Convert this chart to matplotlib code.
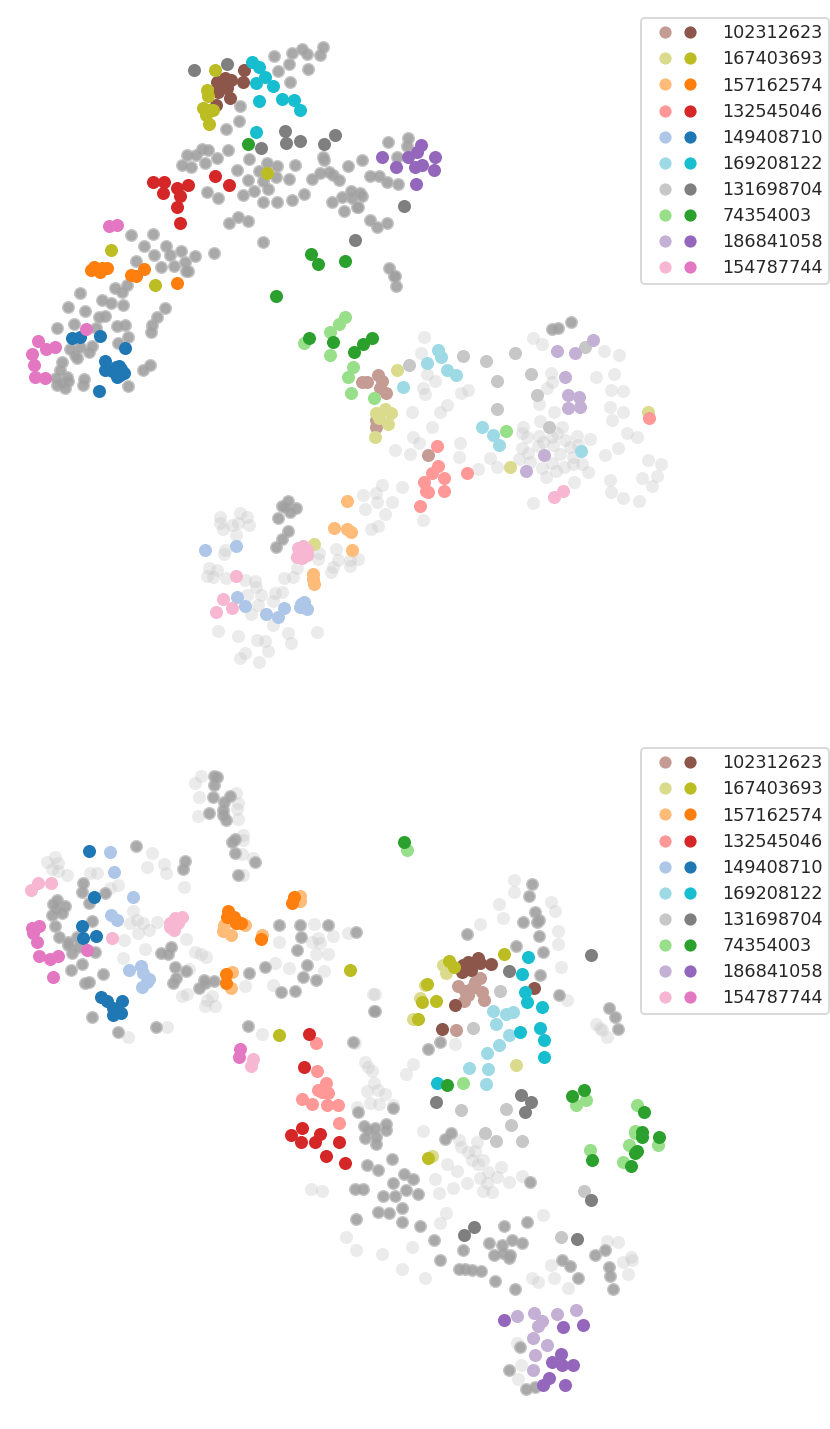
import matplotlib
matplotlib.use("Agg")
import matplotlib.pyplot as plt
from matplotlib.lines import Line2D
from matplotlib.legend_handler import HandlerTuple

labels = ['102312623','167403693','157162574','132545046','149408710','169208122','131698704','74354003','186841058','154787744']
dark_colors = ['#8c564b','#bcbd22','#ff7f0e','#d62728','#1f77b4','#17becf','#7f7f7f','#2ca02c','#9467bd','#e377c2']
light_colors = ['#c49c94','#dbdb8d','#ffbb78','#ff9896','#aec7e8','#9edae5','#c7c7c7','#98df8a','#c5b0d5','#f7b6d2']

# ---------- top panel ----------
top_faint = [(424,337),(421,353),(427,374),(435,381),(423,388),(425,394),(461,393),(468,390),(447,405),(440,412),(412,412),(432,427),(413,437),(419,443),(395,450),(410,454),(460,443),(459,457),(478,469),(490,458),(497,467),
(533,338),(542,344),(604,351),(619,355),(551,373),(552,382),(547,388),(596,377),(614,374),(611,390),(623,391),(539,404),(554,412),(540,421),(610,407),(623,412),(612,420),(562,427),
(523,427),(527,437),(522,433),(539,436),(538,446),(522,448),(552,437),(557,433),(565,440),(577,436),(590,439),(560,454),(570,447),(578,445),(528,453),(519,459),(530,462),(552,463),(573,457),(564,467),(573,464),(582,464),(588,472),(542,468),(556,471),(546,477),(574,482),(543,442),(553,445),
(605,455),(618,448),(627,433),(637,437),(648,460),(661,464),(657,476),(642,478),(652,486),(610,480),(611,492),(623,498),(639,501),(533,503),
(363,495),(376,493),(382,485),(402,487),(377,502),(392,502),(365,509),(385,514),(378,526),(371,529),(423,520),
(220,517),(240,513),(247,517),(220,523),(223,529),(232,525),(238,523),(249,525),(236,535),(225,550),(224,554),(209,568),(217,570),(207,576),(213,577),(226,578),(245,580),(255,581),(256,587),(247,595),(261,595),(275,593),(282,592),(258,605),(273,601),(251,614),(273,625),(218,631),(238,636),(257,640),(265,641),(288,633),(317,632),(291,643),(268,651),(245,653),(240,658),(259,662),
(284,578),(293,577),(297,568),(318,559),(319,553),(336,549),(338,560),(333,567),(331,572),(350,560),(358,559),(350,566)]
top_ring = [(274,56),(292,53),(302,49),(307,54),(320,55),(323,47),(289,64),(278,71),(308,69),(290,82),(240,106),(239,121),(226,129),
(187,155),(182,165),(191,167),(196,155),(202,149),(208,150),(205,163),(217,158),(228,150),(249,159),(237,170),(248,180),(259,171),(267,163),(277,166),(295,165),(263,181),(276,177),(289,179),(268,189),(254,191),(243,195),(263,202),(277,202),(292,200),(304,194),(207,192),(218,198),(229,223),(238,217),(248,221),(263,242),
(323,157),(324,160),(312,179),(320,173),(329,172),(333,175),(339,180),(348,166),(362,160),(332,202),(342,197),(351,191),(360,193),(352,198),(362,196),(357,207),(344,211),(358,207),(370,176),(379,176),(387,182),(398,184),(388,142),(408,138),(407,146),(397,157),(370,220),(377,227),(387,223),(389,268),(394,276),(396,286),(395,276),
(131,235),(153,234),(144,246),(154,255),(166,246),(181,251),(195,256),(214,253),(170,255),(136,261),(161,267),(174,266),(185,262),(186,271),(188,271),(127,285),(115,288),(122,292),(80,293),(68,307),(102,300),(111,303),(123,305),(85,311),(99,317),(105,316),(165,308),(157,317),(152,325),(151,332),(57,328),(74,324),(96,328),(117,326),(125,325),(128,337),(118,343),
(70,349),(80,347),(92,346),(89,352),(75,355),(77,358),(62,362),(60,370),(67,377),(56,378),(68,381),(62,383),(57,385),(65,388),(84,379),(83,385),(128,386),(143,370),(150,365),
(552,329),(558,328),(571,322),(288,501),(282,506),(285,507),(296,508),(290,512),(278,518),(288,531),(282,539),(276,547)]
top_brown_d = [(244,70),(243,82),(217,82),(225,78),(231,80),(220,87),(227,88),(218,92),(230,98),(216,105),(224,84)]
top_brown_l = [(362,382),(367,382),(378,375),(382,381),(380,388),(386,393),(376,427),(376,420),(428,455)]
top_olive_d = [(215,70),(207,90),(208,96),(203,108),(213,110),(206,115),(209,124),(209,110),(155,285),(111,250),(267,173)]
top_olive_l = [(397,370),(376,413),(385,409),(391,413),(379,418),(388,424),(375,437),(510,467),(648,412),(314,544)]
top_orange_d = [(91,270),(94,267),(100,272),(102,268),(107,268),(131,275),(136,276),(144,269),(177,283)]
top_orange_l = [(347,501),(334,528),(347,529),(351,532),(352,550),(313,574),(313,579),(314,584)]
top_red_d = [(153,182),(164,182),(163,193),(177,188),(188,185),(180,196),(177,207),(180,223),(215,176),(229,185)]
top_red_l = [(437,446),(438,466),(432,473),(444,478),(424,482),(426,491),(444,491),(420,506),(467,473),(649,418),(428,492)]
top_blue_d = [(72,338),(80,337),(100,336),(125,348),(105,361),(105,370),(119,366),(124,373),(117,377),(118,372),(99,391),(112,371),(121,369),(116,367),(120,375)]
top_blue_l = [(205,550),(236,546),(237,597),(245,606),(266,614),(278,617),(284,608),(300,607),(304,602),(307,609),(301,604),(303,607)]
top_cyan_d = [(252,62),(259,67),(265,77),(256,83),(273,86),(259,101),(282,99),(294,100),(300,110),(256,132)]
top_cyan_l = [(438,350),(441,357),(427,363),(447,370),(456,375),(403,387),(482,427),(493,435),(499,445),(581,451)]
top_gray_d = [(194,70),(227,64),(285,131),(286,143),(300,141),(261,148),(324,144),(335,135),(404,206),(355,240)]
top_gray_l = [(409,365),(463,356),(486,361),(515,353),(531,374),(497,381),(537,395),(497,409),(585,347),(549,427)]
top_green_d = [(248,144),(311,254),(318,264),(345,261),(276,296),(309,338),(333,342),(354,352),(363,344),(372,338)]
top_green_l = [(345,317),(339,324),(330,332),(304,343),(330,355),(353,367),(348,377),(351,393),(374,398),(506,431)]
top_purple_d = [(382,157),(396,167),(408,157),(415,167),(417,152),(421,145),(422,165),(435,157),(434,170),(416,184)]
top_purple_l = [(557,351),(575,353),(593,340),(565,377),(568,395),(579,397),(568,408),(580,407),(544,455),(526,471)]
top_pink_d = [(109,226),(117,225),(86,329),(38,341),(46,349),(55,347),(32,354),(34,365),(35,377),(45,378)]
top_pink_l = [(563,491),(554,497),(303,546),(298,548),(307,550),(297,557),(302,558),(307,555),(236,576),(223,599),(232,608),(216,612)]

# ---------- bottom panel ----------
bot_faint = [(201,776),(195,783),(199,797),(198,816),(236,793),(238,803),(237,809),(238,819),(243,835),(243,840),(242,854),(253,858),(243,875),
(152,853),(147,867),(164,864),(166,873),(184,887),(118,885),(110,888),(90,873),(97,873),(55,857),(47,862),(58,863),(52,869),(58,871),(67,875),
(133,911),(130,923),(137,920),(143,923),(138,933),(149,930),(157,922),(124,940),(145,949),(123,958),(186,939),(195,952),(201,954),(206,957),(189,969),
(182,996),(187,994),(207,1000),(212,996),(205,1006),(215,1006),(245,986),(273,985),(275,963),(289,968),(324,971),(328,954),(316,954),(279,942),(314,924),(333,936),(312,942),(318,938),(320,943),(348,933),
(167,1027),(128,1037),(262,1034),(373,994),(355,1043),(514,880),(514,892),(499,904),(503,918),(480,924),(551,902),(555,911),(558,931),(558,944),(561,967),(567,1000),(375,994),(455,1044),(596,1024),(602,1030),(607,1037),(600,1028),
(365,1062),(368,1067),(372,1071),(413,1064),(406,1074),(374,1083),(367,1091),(378,1090),(385,1094),(370,1103),(379,1104),(357,1107),(393,1105),(423,1131),(459,1140),(477,1142),(461,1147),(468,1152),(475,1151),(472,1160),(483,1160),(478,1164),(447,1164),(457,1171),(501,1167),(488,1172),(480,1178),(497,1177),(522,1176),(435,1179),(467,1183),(509,1182),(483,1191),(492,1192),(487,1183),(453,1188),(439,1193),(311,1189),(322,1191),
(446,1213),(440,1223),(543,1215),(346,1237),(356,1250),(382,1254),(412,1247),(402,1269),(425,1278),(551,1265),(554,1278),(532,1278),(538,1282),(568,1288),(607,1241),(618,1242),(623,1262),(631,1257),(632,1260),(628,1274),(517,1343),(521,1365),(518,1379)]
bot_ring = [(214,776),(217,777),(214,785),(213,797),(230,796),(224,802),(209,813),(223,810),(223,815),(226,820),(235,839),(232,842),(235,853),(255,862),(238,875),
(136,846),(185,861),(183,869),(83,883),(82,892),(105,893),(89,903),(57,900),(53,904),(65,906),(56,909),(62,913),(52,915),(55,926),(92,921),(59,937),(68,942),(77,937),(68,945),(78,947),(72,953),(95,952),(82,964),(71,970),(103,974),(85,983),(89,982),(92,1017),(118,1032),(156,1027),
(161,953),(168,954),(171,947),(175,967),(186,971),(176,978),(173,983),(199,988),(204,980),(214,981),(205,983),(249,973),(265,967),(279,925),(300,925),(301,937),(328,925),(356,932),(297,950),(307,965),(303,977),(316,980),(281,992),(295,991),(374,1011),(248,1026),(353,1042),
(532,884),(529,896),(535,912),(539,920),(523,922),(537,922),(539,936),(467,934),(516,946),(543,952),(540,975),(559,995),(375,1011),(609,1008),(615,1017),(618,1029),(440,1042),(428,1049),
(358,1112),(393,1108),(364,1126),(368,1130),(386,1124),(386,1130),(375,1128),(365,1138),(376,1137),(376,1144),(451,1133),(445,1139),(392,1159),(367,1165),(378,1170),(404,1174),(413,1179),(393,1183),(355,1189),(363,1189),(406,1190),(383,1196),(395,1196),(418,1194),(402,1208),(378,1212),(389,1213),(356,1219),(402,1222),(420,1226),(434,1240),(504,1226),(527,1222),(530,1182),
(463,1250),(440,1260),(489,1243),(512,1240),(502,1245),(522,1243),(494,1255),(503,1253),(510,1255),(509,1258),(459,1269),(465,1269),(472,1270),(481,1271),(495,1281),(515,1289),(562,1260),(570,1266),(578,1278),(595,1255),(605,1250),(609,1267),(610,1276),(613,1289),(520,1347),(509,1370),(526,1389),(535,1387)]
bot_brown_d = [(478,958),(468,962),(463,965),(480,963),(491,964),(462,972),(471,970),(534,988),(455,1005),(442,1029)]
bot_brown_l = [(480,978),(475,982),(458,986),(465,991),(472,988),(482,992),(464,1001),(484,1000),(468,995),(456,1030)]
bot_olive_d = [(504,954),(449,961),(454,967),(427,984),(422,1002),(436,1001),(418,1019),(350,970),(279,1035),(428,1158)]
bot_olive_l = [(443,965),(446,973),(425,985),(420,998),(413,1019),(516,1065),(432,1156)]
bot_orange_d = [(228,911),(227,917),(234,917),(236,923),(241,923),(294,897),(292,903),(261,939),(226,974),(226,983)]
bot_orange_l = [(300,896),(300,901),(245,925),(224,925),(223,931),(231,935),(262,935),(232,972),(231,988)]
bot_red_d = [(309,1034),(304,1067),(302,1128),(291,1135),(301,1142),(320,1134),(315,1142),(339,1142),(326,1156),(345,1163)]
bot_red_l = [(316,1043),(317,1071),(326,1083),(318,1090),(328,1093),(302,1099),(312,1104),(327,1105),(338,1105),(339,1123),(322,1092)]
bot_blue_d = [(89,851),(94,897),(82,926),(83,938),(96,936),(101,997),(107,1001),(122,1001),(113,1008),(113,1015),(121,1013)]
bot_blue_l = [(110,852),(114,872),(133,897),(111,915),(117,920),(129,970),(141,966),(143,973),(149,979),(142,987),(147,982)]
bot_cyan_d = [(528,957),(522,974),(525,992),(527,1002),(542,1007),(540,1028),(520,1032),(544,1040),(544,1057),(437,1083)]
bot_cyan_l = [(493,1011),(506,1014),(513,1012),(496,1024),(509,1035),(499,1045),(487,1053),(469,1068),(488,1069),(486,1084)]
bot_gray_d = [(591,955),(509,971),(436,1102),(521,1095),(531,1102),(525,1112),(591,1200),(464,1235),(474,1227),(577,1239)]
bot_gray_l = [(500,991),(473,1028),(461,1110),(506,1109),(511,1125),(485,1133),(496,1141),(522,1141),(584,1191),(561,1237)]
bot_green_d = [(404,842),(447,1085),(584,1090),(572,1096),(644,1112),(642,1132),(642,1137),(659,1137),(637,1151),(635,1153),(592,1160),(631,1166)]
bot_green_l = [(407,850),(463,1083),(576,1105),(586,1100),(637,1105),(635,1131),(629,1145),(658,1145),(590,1150),(623,1162),(635,1133)]
bot_purple_d = [(504,1320),(563,1327),(583,1325),(561,1354),(552,1362),(562,1365),(573,1365),(549,1378),(543,1385),(565,1385)]
bot_purple_l = [(517,1316),(534,1313),(542,1321),(538,1326),(557,1314),(576,1310),(533,1338),(547,1345),(535,1355),(533,1370)]
bot_pink_d = [(39,926),(32,928),(33,933),(37,942),(39,956),(50,959),(58,956),(87,950),(53,977),(240,1049),(239,1057)]
bot_pink_l = [(31,890),(38,883),(51,883),(112,938),(170,927),(175,918),(182,917),(174,930),(170,923),(178,923),(253,1059),(251,1066)]

W, H = 830, 1429
SPLIT = 700
S = 88
fig = plt.figure(figsize=(W/100, H/100), dpi=100)
ax_top = fig.add_axes([0, 1 - SPLIT/H, 1, SPLIT/H])
ax_bot = fig.add_axes([0, 0, 1, 1 - SPLIT/H])
ax_top.set_xlim(0, W); ax_top.set_ylim(SPLIT, 0)
ax_bot.set_xlim(0, W); ax_bot.set_ylim(H, SPLIT)

def xy(pts):
    return [p[0] for p in pts], [p[1] for p in pts]

def draw(ax, faint, ring, dark, light):
    x, y = xy(faint)
    ax.scatter(x, y, s=S, c='#c7c7c7', alpha=0.34, linewidths=0, zorder=1)
    x, y = xy(ring)
    ax.scatter(x, y, s=S, c='#bcbcbc', alpha=0.85, linewidths=0, zorder=2)
    ax.scatter(x, y, s=S*0.62, c='#a0a0a0', alpha=0.75, linewidths=0, zorder=2.1)
    for pts, col in zip(light, light_colors):
        x, y = xy(pts)
        ax.scatter(x, y, s=S, c=col, linewidths=0, zorder=3)
    for pts, col in zip(dark, dark_colors):
        x, y = xy(pts)
        ax.scatter(x, y, s=S, c=col, linewidths=0, zorder=4)
    ax.axis('off')

draw(ax_top, top_faint, top_ring,
     [top_brown_d, top_olive_d, top_orange_d, top_red_d, top_blue_d, top_cyan_d, top_gray_d, top_green_d, top_purple_d, top_pink_d],
     [top_brown_l, top_olive_l, top_orange_l, top_red_l, top_blue_l, top_cyan_l, top_gray_l, top_green_l, top_purple_l, top_pink_l])
draw(ax_bot, bot_faint, bot_ring,
     [bot_brown_d, bot_olive_d, bot_orange_d, bot_red_d, bot_blue_d, bot_cyan_d, bot_gray_d, bot_green_d, bot_purple_d, bot_pink_d],
     [bot_brown_l, bot_olive_l, bot_orange_l, bot_red_l, bot_blue_l, bot_cyan_l, bot_gray_l, bot_green_l, bot_purple_l, bot_pink_l])

def legend(ax, top_px):
    handles = []
    for lc, dc in zip(light_colors, dark_colors):
        a = Line2D([], [], marker='o', ls='', ms=8.8, mfc=lc, mec=lc, mew=0)
        b = Line2D([], [], marker='o', ls='', ms=8.8, mfc=dc, mec=dc, mew=0)
        handles.append((a, b))
    leg = ax.legend(handles, labels, handler_map={tuple: HandlerTuple(ndivide=2, pad=-0.526)},
                    loc='upper right', bbox_to_anchor=(829/W, 1 - top_px/H), bbox_transform=fig.transFigure,
                    borderaxespad=0, fontsize=12.7, handlelength=3.38, handletextpad=0.85,
                    labelspacing=0.46, borderpad=0.36, frameon=True, fancybox=True,
                    edgecolor='#d6d6d6', framealpha=0.9, labelcolor='#262626')
    leg.get_frame().set_linewidth(1.4)
    return leg

legend(ax_top, 18)
legend(ax_bot, 748)
fig.savefig('out.png', dpi=100, facecolor='white')
